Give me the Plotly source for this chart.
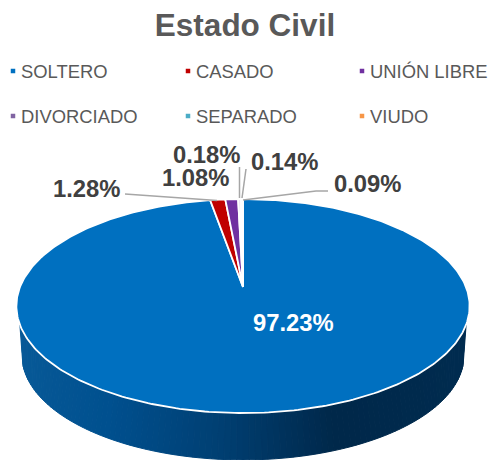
import numpy as np
import plotly.graph_objects as go

categories = ["SOLTERO", "CASADO", "UNIÓN LIBRE", "DIVORCIADO", "SEPARADO", "VIUDO"]
percent = [97.23, 1.28, 1.08, 0.18, 0.14, 0.09]
colors = ["#0070C0", "#C00000", "#7030A0", "#8064A2", "#4BACC6", "#F79646"]
chart_title = "Estado Civil"

W, H = 489, 460
CX, CY = 243.0, 287.0
A, B, P = 223.0, 103.6, 0.178
DEPTH_Y, DEPTH_S = 50.0, 0.975
SANS = "Liberation Sans, Arial, sans-serif"


def rim(theta, scale=1.0, dy=0.0):
    """Clockwise angle from 12 o'clock on the tilted, perspective-foreshortened disc."""
    u, v = np.sin(theta), np.cos(theta)
    w = 1 + P * v
    return CX + scale * A * u / w, CY + dy - scale * B * v / w


fig = go.Figure()

# side wall of the big slice
stops = [(16, (8, 90, 152)), (110, (0, 80, 143)), (230, (0, 62, 112)),
         (335, (0, 40, 74)), (470, (0, 44, 80))]
sx = [s[0] for s in stops]
edges = np.radians(np.linspace(110, 250, 111))[::-1]
low = np.pi + (edges - np.pi) * 75 / 70
for k in range(len(edges) - 1):
    xa, ya = rim(edges[k:k + 2])
    xb, yb = rim(low[k:k + 2][::-1], DEPTH_S, DEPTH_Y)
    mid = (xa.mean() + xb.mean()) / 2
    rgb = [int(np.interp(mid, sx, [s[1][i] for s in stops])) for i in range(3)]
    col = f"rgb({rgb[0]},{rgb[1]},{rgb[2]})"
    fig.add_trace(go.Scatter(x=[*xa, *xb, xa[0]], y=[*ya, *yb, ya[0]], mode="lines",
                             fill="toself", fillcolor=col, line=dict(color=col, width=1),
                             hoverinfo="skip", showlegend=False))

# top face slices, clockwise from 12 o'clock
cum = np.cumsum([0] + percent) / sum(percent) * 2 * np.pi
for i, name in enumerate(categories):
    t = np.linspace(cum[i], cum[i + 1], max(3, int(percent[i] * 4)))
    x, y = rim(t)
    fig.add_trace(go.Scatter(x=[CX, *x, CX], y=[CY, *y, CY], mode="lines", fill="toself",
                             fillcolor=colors[i], line=dict(color="white", width=1.8),
                             name=name, hoverinfo="name", showlegend=False))

# leader lines
leaders = [([125, 217], [194, 200.5]), ([239.5, 239.5], [167, 198]), ([246, 242], [169, 198]),
           ([328, 316, 243], [191, 191, 200])]
for lx, ly in leaders:
    fig.add_trace(go.Scatter(x=lx, y=ly, mode="lines", line=dict(color="#A6A6A6", width=1.5),
                             hoverinfo="skip", showlegend=False))

# legend swatches
legend_x = [13, 188, 362, 13, 188, 362]
legend_y = [71, 71, 71, 116, 116, 116]
fig.add_trace(go.Scatter(x=legend_x, y=legend_y, mode="markers",
                         marker=dict(symbol="square", size=4.5, color=colors, line=dict(width=0)),
                         hoverinfo="skip", showlegend=False))

ann = []
for x, y, name in zip(legend_x, legend_y, categories):
    ann.append(dict(x=x + 6, y=y, text=name, xanchor="left", yanchor="middle", showarrow=False,
                    font=dict(family=SANS, size=18.4, color="#595959")))

label_pos = [(293, 322), (86, 188), (195, 177), (206, 154), (284, 161), (367, 183)]
for i, (v, (x, y)) in enumerate(zip(percent, label_pos)):
    ann.append(dict(x=x, y=y, text=f"{v:.2f}%", xanchor="center", yanchor="middle", showarrow=False,
                    font=dict(family=SANS, size=23.8, color="white" if i == 0 else "#404040", weight="bold")))

fig.update_layout(
    width=W, height=H, margin=dict(l=0, r=0, t=0, b=0), autosize=False,
    paper_bgcolor="white", plot_bgcolor="white", showlegend=False, annotations=ann,
    title=dict(text=f"<b>{chart_title}</b>", x=245 / W, xanchor="center", y=1 - 25 / H, yanchor="middle",
               font=dict(family=SANS, size=31.5, color="#595959")),
    xaxis=dict(range=[0, W], visible=False, fixedrange=True),
    yaxis=dict(range=[H, 0], visible=False, fixedrange=True),
)
fig.write_html("out.html", config=dict(displayModeBar=False),
               post_script="document.body.style.margin='0';document.documentElement.style.overflow='hidden';")
